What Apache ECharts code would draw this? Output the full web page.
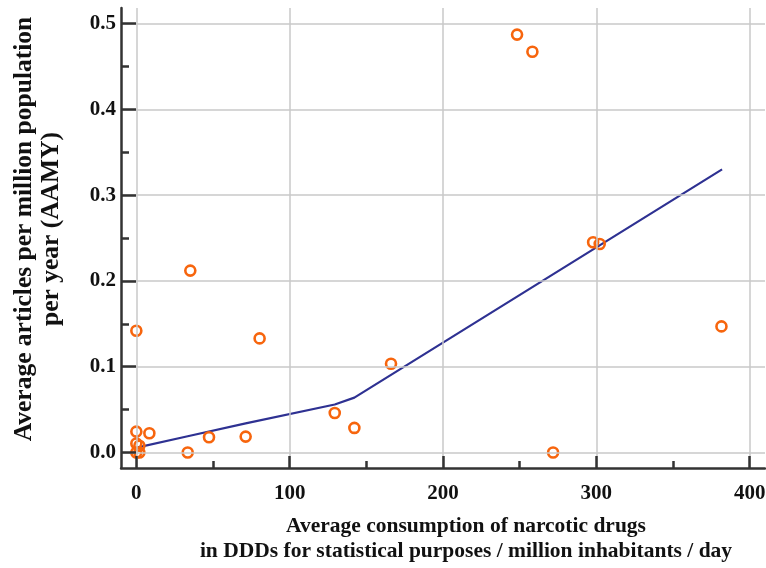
<!DOCTYPE html>
<html>
<head>
<meta charset="utf-8">
<script src="https://cdn.jsdelivr.net/npm/echarts@6/dist/echarts.min.js"></script>
<style>html,body{margin:0;padding:0;background:#fff;}#c{width:766px;height:568px;}</style>
</head>
<body>
<div id="c"></div>
<script>
// Scatter data: consumption (DDD/million/day) vs AAMY
const consumption = [248.3, 258.3, 297.9, 302.2, 35.2, 0, 80.4, 166.1, 381.6, 271.8, 129.4, 142.2, 71.3, 47.4, 33.5, 8.5, 0, 0, 2, 0, 2];
const aamy        = [0.487, 0.467, 0.245, 0.243, 0.212, 0.142, 0.133, 0.1035, 0.147, 0.0, 0.046, 0.0287, 0.0186, 0.0178, 0.0, 0.0225, 0.0244, 0.0105, 0.008, 0.0, 0.0];
// Fitted curve
const fitX = [1, 33.5, 71.3, 129.4, 142.2, 382];
const fitY = [0.006, 0.019, 0.034, 0.056, 0.064, 0.33];
// Axis ticks
const xTicks = [0, 100, 200, 300, 400];
const xMinorTicks = [50, 150, 250, 350];
const yTicks = [0.0, 0.1, 0.2, 0.3, 0.4, 0.5];
const yMinorTicks = [0.05, 0.15, 0.25, 0.35, 0.45];

const font = '"Liberation Serif", "Times New Roman", serif';
const X_MIN = -10, X_MAX = 410, Y_MIN = -0.018, Y_MAX = 0.518;
const chart = echarts.init(document.getElementById('c'), null, {renderer: 'canvas'});
chart.setOption({
  animation: false,
  backgroundColor: '#fff',
  grid: {left: 121, top: 8, right: 1, bottom: 100, containLabel: false, outerBoundsMode: 'none'},
  xAxis: [{
    type: 'value', min: X_MIN, max: X_MAX,
    name: 'Average consumption of narcotic drugs\nin DDDs for statistical purposes / million inhabitants / day',
    nameLocation: 'middle', nameGap: 46,
    nameTextStyle: {fontFamily: font, fontWeight: 'bold', fontSize: 21.5, color: '#111', lineHeight: 25, padding: [0, 0, 0, 46]},
    axisLine: {show: true, onZero: false, lineStyle: {color: '#333', width: 2.5}},
    axisTick: {show: true, inside: true, length: 12, lineStyle: {color: '#333', width: 2.5},
      customValues: xTicks},
    axisLabel: {fontFamily: font, fontWeight: 'bold', fontSize: 21, color: '#111', margin: 15,
      customValues: xTicks, formatter: v => String(v)},
    splitLine: {show: true, lineStyle: {color: '#c8c8c8', width: 1.5}, customValues: xTicks},
    z: 5
  }, {
    type: 'value', min: X_MIN, max: X_MAX, position: 'bottom',
    axisLine: {show: false, onZero: false},
    axisTick: {show: true, inside: true, length: 7, lineStyle: {color: '#333', width: 2.5},
      customValues: xMinorTicks},
    axisLabel: {show: false},
    splitLine: {show: false},
    z: 5
  }],
  yAxis: [{
    type: 'value', min: Y_MIN, max: Y_MAX,
    name: 'Average articles per million population\nper year (AAMY)',
    nameLocation: 'middle', nameGap: 56,
    nameTextStyle: {fontFamily: font, fontWeight: 'bold', fontSize: 25.5, color: '#111', lineHeight: 27, padding: [0, 0, 0, 18]},
    axisLine: {show: true, onZero: false, lineStyle: {color: '#333', width: 2.5}},
    axisTick: {show: true, inside: true, length: 15, lineStyle: {color: '#333', width: 2.5},
      customValues: yTicks},
    axisLabel: {fontFamily: font, fontWeight: 'bold', fontSize: 21, color: '#111', margin: 5,
      customValues: yTicks, formatter: v => v.toFixed(1)},
    splitLine: {show: true, lineStyle: {color: '#c8c8c8', width: 1.5}, customValues: yTicks},
    z: 5
  }, {
    type: 'value', min: Y_MIN, max: Y_MAX, position: 'left',
    axisLine: {show: false, onZero: false},
    axisTick: {show: true, inside: true, length: 8, lineStyle: {color: '#333', width: 2.5},
      customValues: yMinorTicks},
    axisLabel: {show: false},
    splitLine: {show: false},
    z: 5
  }],
  series: [
    {
      type: 'line', data: fitX.map((x, i) => [x, fitY[i]]),
      showSymbol: false, symbol: 'none',
      lineStyle: {color: '#2e3192', width: 2.2}, z: 2
    },
    {
      type: 'scatter', data: consumption.map((x, i) => [x, aamy[i]]),
      symbol: 'circle', symbolSize: 10,
      itemStyle: {color: 'rgba(255,255,255,0)', borderColor: '#f7650d', borderWidth: 2.6, opacity: 1}, z: 3
    }
  ]
});
</script>
</body>
</html>
